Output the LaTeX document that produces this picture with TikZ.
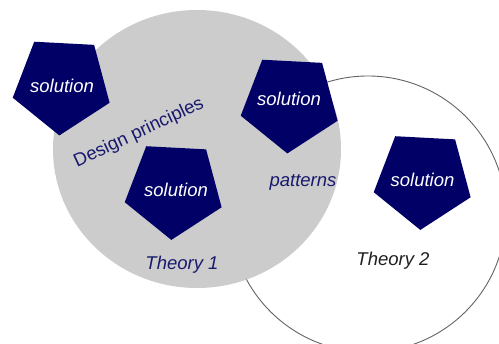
\documentclass[tikz,border=0pt]{standalone}
\usepackage{fontspec}
\setmainfont{Liberation Sans}
\usetikzlibrary{shapes.geometric}
\definecolor{navyfill}{RGB}{0,0,102}
\definecolor{navytext}{RGB}{25,25,110}
\definecolor{circgray}{RGB}{204,204,204}
\definecolor{ringgray}{RGB}{100,100,100}
\begin{document}
\begin{tikzpicture}[x=1pt,y=-1pt,
  pent/.style={regular polygon, regular polygon sides=5, shape border rotate=177,
    fill=navyfill, minimum size=102pt, inner sep=0pt},
  lbl/.style={font=\fontsize{18.5}{20}\selectfont\itshape, text=navytext,
    anchor=base, inner sep=0pt},
  soltext/.style={lbl, text=white}]
\useasboundingbox (0,0) rectangle (499,344);
\fill[white] (0,0) rectangle (499,344);
\clip (0,0) rectangle (499,344);
\draw[ringgray, line width=0.9pt] (368,214) circle[radius=138];
\fill[circgray] (197,149) ellipse[x radius=144, y radius=139];
\node[pent] (p1) at (62,84.5) {};
\node[pent] (p2) at (290,102.5) {};
\node[pent] (p3) at (423,179) {};
\node[pent] (p4) at (174,189) {};
\node[soltext] (s1) at (62,92.7) {solution};
\node[soltext] (s2) at (289,105.7) {solution};
\node[soltext] (s3) at (422.5,186.7) {solution};
\node[soltext] (s4) at (176,197) {solution};
\node[lbl, font=\fontsize{18.5}{20}\selectfont, rotate=25, anchor=center] (dp) at (139,133) {Design principles};
\node[lbl] (pat) at (303,187) {patterns};
\node[lbl] (t1) at (182,270) {Theory 1};
\node[lbl, text=black!88] (t2) at (393,266) {Theory 2};
\end{tikzpicture}
\end{document}
